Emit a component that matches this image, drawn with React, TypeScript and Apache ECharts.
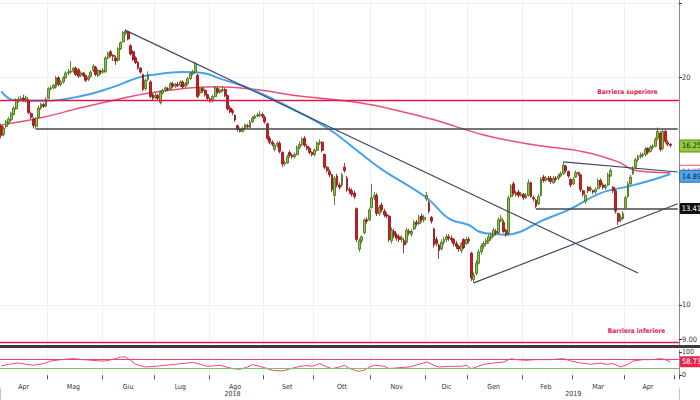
import React, { useEffect, useRef } from 'react';
import * as echarts from 'echarts';

// ---------- calendar (trading days) ----------
const holidays = ['2018-05-01', '2018-08-15', '2018-12-24', '2018-12-25', '2018-12-26', '2018-12-31', '2019-01-01', '2019-04-19', '2019-04-22', '2019-05-01'];
const MONTHS = ['Gen', 'Feb', 'Mar', 'Apr', 'Mag', 'Giu', 'Lug', 'Ago', 'Set', 'Ott', 'Nov', 'Dic'];

function buildDates(): string[] {
  const out: string[] = [];
  const d = new Date(Date.UTC(2018, 3, 4));
  const end = Date.UTC(2019, 4, 3);
  while (d.getTime() <= end) {
    const wd = d.getUTCDay();
    const s = d.toISOString().slice(0, 10);
    if (wd !== 0 && wd !== 6 && holidays.indexOf(s) < 0) out.push(s);
    d.setUTCDate(d.getUTCDate() + 1);
  }
  return out;
}
const dates = buildDates();

// ---------- daily prices ----------
const opens = [17.25,16.8,17.2,17.4,17.55,17.85,18.15,18.6,18.7,18.75,18.65,18.6,17.9,17.6,17.2,17.7,18.2,18.4,18.3,18.75,
19.3,19.35,19.4,19.95,19.55,19.7,19.95,20.25,20.3,20.35,20.55,20.45,20.1,20.25,20.1,19.85,20.05,20.4,20.6,20.1,
20.35,20.3,20.35,21.2,21.6,21.35,21.2,21.05,21.8,22.25,22.85,22.95,22.0,21.6,21.2,20.9,20.55,20.15,19.3,19.85,
19.7,18.95,18.8,18.9,18.5,19.05,19.2,19.3,19.3,19.6,19.45,19.55,19.5,19.7,19.45,19.6,19.9,20.2,20.3,20.1,
19.05,19.3,19.2,18.95,18.7,18.6,18.85,19.3,19.1,19.2,19.25,18.9,18.2,18.05,17.8,17.25,17.05,16.95,17.1,17.25,
17.15,17.45,17.65,17.75,17.8,17.85,17.7,17.35,16.6,16.4,16.05,16.25,16.35,15.9,15.35,15.4,15.9,15.75,15.7,15.8,
16.15,16.3,16.6,16.2,16.1,15.9,15.8,16.0,16.35,16.4,15.8,15.2,15.0,14.85,13.95,14.8,14.4,14.4,15.2,14.7,
14.2,14.15,14.05,13.4,11.85,12.15,12.45,12.95,12.95,13.45,13.85,13.95,13.2,13.55,13.3,13.15,13.1,12.15,12.5,12.35,
12.3,12.2,12.15,12.1,12.5,12.4,12.6,12.85,12.8,13.1,12.95,13.8,13.65,13.05,12.6,12.2,12.0,11.85,12.1,12.2,
12.3,12.25,12.2,12.05,11.95,11.8,12.2,12.05,12.2,11.7,10.8,11.0,11.35,11.75,11.95,12.05,12.15,12.25,12.35,12.5,
12.45,12.9,12.85,12.55,12.45,13.9,14.45,14.05,14.1,13.95,14.0,13.85,13.95,14.5,13.85,13.75,13.6,13.95,14.75,14.6,
14.7,14.7,14.5,14.7,14.7,14.8,14.9,15.25,15.0,14.65,14.45,14.75,14.95,14.85,14.15,13.7,14.3,14.2,14.15,14.1,
14.25,14.6,14.4,14.3,14.4,14.8,14.3,14.15,13.2,12.95,13.0,13.45,13.9,14.45,14.9,15.2,15.55,15.7,15.75,15.8,
16.1,15.95,16.15,16.2,16.6,16.85,16.1,16.95,16.4,16.3];
const closes = [16.75,17.1,17.45,17.6,17.9,18.2,18.65,18.7,18.75,18.65,18.8,17.95,17.7,17.25,17.65,18.2,18.4,18.3,18.7,19.3,
19.35,19.5,19.95,19.55,19.7,19.95,20.25,20.3,20.35,20.55,20.15,20.05,20.25,20.1,19.8,20.0,20.3,20.65,20.15,20.4,
20.3,20.4,21.2,21.5,21.35,21.3,21.0,21.8,22.2,22.9,23.0,22.45,21.45,21.1,20.9,20.55,20.3,19.25,19.8,20.15,
18.85,18.75,18.9,18.75,19.1,19.2,19.35,19.25,19.6,19.45,19.55,19.5,19.7,19.4,19.6,19.9,20.2,20.3,20.85,18.85,
19.3,19.2,18.95,18.75,18.6,18.85,19.35,19.1,19.2,19.25,18.9,18.15,18.0,17.95,17.55,17.05,16.95,17.1,17.3,17.2,
17.45,17.65,17.75,17.8,17.85,17.75,17.45,16.6,16.4,16.3,16.25,16.35,15.95,15.35,15.4,15.7,15.75,15.7,15.8,16.15,
16.3,16.55,16.25,16.1,15.9,15.8,16.0,16.35,16.4,16.0,15.2,15.05,14.85,14.2,14.7,14.4,14.3,14.85,15.05,14.2,
14.15,14.0,13.9,12.2,12.15,12.3,12.95,12.9,13.35,13.85,13.95,13.2,13.45,13.35,13.15,13.1,12.2,12.55,12.35,12.25,
12.2,12.25,12.0,12.55,12.45,12.5,12.85,12.8,13.05,12.95,13.05,13.95,13.3,12.9,12.0,12.05,11.8,12.1,12.2,12.3,
12.25,12.2,12.05,11.95,11.85,12.05,11.9,12.2,12.15,10.85,10.95,11.35,11.75,11.95,12.05,12.15,12.3,12.35,12.55,12.45,
12.95,13.0,12.5,12.4,13.85,14.35,14.05,14.0,13.95,14.0,13.85,13.95,14.5,13.9,13.8,13.5,13.9,14.65,14.6,14.7,
14.65,14.55,14.7,14.65,14.8,14.9,15.3,15.05,14.8,14.4,14.65,14.95,14.9,14.2,14.0,13.95,14.15,14.25,14.1,14.2,
14.6,14.4,14.3,14.35,14.85,15.05,14.15,13.3,12.9,13.05,13.2,13.85,14.45,14.75,15.15,15.55,15.7,15.75,15.8,16.05,
15.9,16.15,16.2,16.55,16.95,16.05,16.95,16.45,16.3,16.25];
const lows = [16.6,16.7,17.1,17.3,17.45,17.8,18.1,18.5,18.6,18.55,18.5,17.85,17.6,17.1,17.06,17.65,18.1,18.2,18.25,18.7,
19.2,19.25,19.3,19.45,19.45,19.6,19.9,20.1,20.2,20.25,20.05,19.95,20.0,20.0,19.7,19.75,19.95,20.3,20.05,20.0,
20.15,20.2,20.25,21.1,21.25,21.0,20.75,20.95,21.7,22.2,22.7,22.35,21.35,21.0,20.8,20.45,20.2,19.15,19.2,19.75,
18.75,18.6,18.7,18.6,18.4,18.95,19.1,19.15,19.2,19.35,19.35,19.4,19.4,19.3,19.35,19.5,19.8,20.1,20.2,18.75,
18.9,19.05,18.85,18.6,18.5,18.5,18.8,19.0,19.0,19.1,18.8,18.05,17.9,17.8,17.45,16.95,16.9,16.9,17.0,17.1,
17.1,17.4,17.6,17.7,17.7,17.65,17.35,16.5,16.3,16.2,15.95,16.15,15.85,15.2,15.25,15.35,15.65,15.6,15.6,15.75,
16.05,16.2,16.15,16.0,15.8,15.7,15.7,15.95,16.25,15.9,15.1,14.95,14.75,14.1,13.55,14.3,14.2,14.3,14.95,14.1,
14.0,13.9,13.8,12.1,11.75,12.05,12.4,12.8,12.9,13.4,13.75,13.1,13.1,13.25,13.05,13.0,12.1,12.05,12.25,12.15,
12.1,12.1,11.7,12.05,12.35,12.3,12.55,12.7,12.75,12.85,12.85,13.7,13.2,12.8,11.9,11.95,11.5,11.8,12.0,12.1,
12.15,12.1,11.95,11.85,11.75,11.7,11.85,12.0,12.05,10.75,10.69,10.95,11.3,11.65,11.85,11.95,12.05,12.15,12.3,12.35,
12.4,12.85,12.45,12.3,12.35,13.85,13.95,13.9,13.85,13.9,13.75,13.8,13.9,13.85,13.7,13.41,13.55,13.9,14.5,14.55,
14.55,14.45,14.45,14.55,14.6,14.75,14.85,14.95,14.7,14.3,14.4,14.7,14.8,14.1,13.9,13.6,14.05,14.1,14.0,14.0,
14.2,14.3,14.2,14.2,14.35,14.75,14.05,13.2,12.75,12.85,12.95,13.4,13.85,14.4,14.85,15.15,15.45,15.6,15.65,15.7,
15.8,15.9,16.05,16.15,16.5,15.95,16.0,16.35,16.2,16.15];
const highs = [17.35,17.2,17.55,17.7,18.0,18.3,18.75,18.85,18.9,18.95,18.9,18.7,18.0,17.7,17.7,18.35,18.5,18.5,18.8,19.4,
19.5,19.6,20.05,20.05,19.8,20.05,20.35,20.5,21.0,20.6,20.65,20.55,20.35,20.3,20.15,20.1,20.4,20.8,20.7,20.5,
20.45,20.55,21.3,21.6,21.7,21.45,21.35,21.9,22.3,23.0,23.15,23.0,22.1,21.7,21.3,21.0,20.6,20.2,19.9,20.35,
19.8,19.05,19.1,19.0,19.2,19.3,19.45,19.4,19.7,19.7,19.65,19.7,19.8,19.8,19.7,20.0,20.3,20.45,20.95,20.2,
19.4,19.4,19.3,19.0,18.8,18.95,19.45,19.4,19.3,19.45,19.35,18.95,18.35,18.15,17.85,17.3,17.15,17.2,17.35,17.35,
17.55,17.75,17.85,17.95,18.05,17.95,17.8,17.4,16.7,16.5,16.35,16.45,16.45,15.95,15.5,15.8,16.0,15.85,15.9,16.25,
16.45,16.65,16.7,16.3,16.15,15.95,16.1,16.45,16.55,16.45,15.85,15.25,15.1,14.9,14.8,14.9,14.5,14.95,15.4,14.8,
14.3,14.25,14.15,13.45,12.25,12.35,13.0,13.05,13.45,14.45,14.1,14.05,13.55,13.65,13.4,13.25,13.15,12.65,12.6,12.45,
12.4,12.35,12.25,12.65,12.6,12.6,12.95,12.95,13.15,13.2,13.15,14.1,13.75,13.1,12.65,12.3,12.05,12.2,12.3,12.4,
12.4,12.35,12.25,12.15,12.0,12.1,12.25,12.3,12.3,11.75,11.05,11.45,11.85,12.05,12.15,12.25,12.4,12.45,12.65,12.6,
13.05,13.15,12.95,12.6,13.95,14.45,14.55,14.15,14.2,14.1,14.05,14.05,14.65,14.55,13.95,13.8,14.0,14.75,14.85,14.8,
14.8,14.8,14.8,14.8,14.9,15.0,15.45,15.3,15.05,14.7,14.75,15.05,15.0,14.9,14.2,14.0,14.35,14.35,14.2,14.3,
14.7,14.7,14.5,14.45,14.95,15.15,14.35,14.2,13.25,13.15,13.3,13.95,14.55,14.85,15.25,15.65,15.8,15.9,15.9,16.15,
16.15,16.25,16.3,16.65,17.15,16.95,17.05,17.05,16.5,16.35];

// ---------- moving averages: [day index, value] ----------
const ma50Idx = [0, 5, 18, 33, 44, 52, 56, 60, 73, 81, 88, 100, 120, 132, 144, 153, 171, 180, 188, 192, 196, 203, 209, 217, 228, 241, 253, 261, 269];
const ma50Val = [19.15, 18.65, 18.6, 18.9, 19.35, 19.8, 20.0, 20.12, 20.3, 20.25, 19.9, 19.3, 17.95, 17.05, 15.9, 15.1, 13.85, 13.0, 12.75, 12.5, 12.42, 12.38, 12.5, 12.9, 13.35, 14.05, 14.36, 14.6, 14.89];
const ma200Idx = [0, 16, 32, 48, 60, 72, 86, 100, 120, 144, 160, 174, 194, 214, 234, 248, 254, 261, 269];
const ma200Val = [17.29, 17.67, 18.21, 18.72, 19.06, 19.29, 19.41, 19.29, 18.88, 18.49, 18.04, 17.56, 16.77, 16.27, 15.93, 15.45, 15.08, 14.98, 14.95];

// ---------- RSI ----------
const rsiIdx = [0,3,7,10,13,17,20,24,29,33,40,42,46,48,50,52,54,58,62,66,70,75,77,80,83,88,93,96,99,101,104,107,109,113,116,120,123,125,128,131,133,136,138,140,142,144,146,148,150,154,156,160,164,168,171,174,176,180,185,187,189,191,194,198,202,205,207,211,215,221,226,229,233,237,241,243,246,249,252,254,258,262,265,267,269];
const rsiVal = [40.6,47.8,53.6,47.8,43.5,50.7,62.3,68.1,72.5,68.1,62.3,62.3,72.5,79.7,79.7,65.2,47.8,36.2,39.1,43.5,47.8,53.6,56.5,47.8,39.1,43.5,29,26.1,36.2,46.4,39.1,29,21.7,18.8,27.5,39.1,42,39.1,50.7,36.2,29,36.2,43.5,30,21.7,17.4,21.7,36.2,43.5,39.1,29,33.3,36.2,47.8,58,43.5,36.2,39.1,39.1,43.5,29,36.2,47.8,53.6,58,72.5,68.1,65.2,68.1,68.1,72.5,62.3,53.6,47.8,53.6,47.8,50.7,36.2,47.8,62.3,68.1,68.1,72.5,68.1,58.7365];

// ---------- levels ----------
const barrierHigh = 18.6;
const barrierLow = 9.0;
const resistance = 17.07;
const support = 13.41;
const lastPrice = 16.25;
const ma50Last = 14.8923;
const ma200Last = 14.95;
const rsiLast = 58.7365;
const priceLabelValues = [9, 10, 20];
const priceTickValues = [9, 10, 20, 25];
const yMin = 8.85;
const yMax = 25.28;
// trend lines: [startIdx, startVal, endIdx, endVal]
const trendDown = [50, 23.05, 256, 11.02];
const trendUp = [190, 10.69, 272, 13.6];
const triangleTop = [226, 15.45, 272, 14.98];
const resistanceStart = 14;
const supportStart = 215;
const lastIdx = 272;
// where the barrier captions end (day index)
const upperCaptionEnd = 266;
const lowerCaptionEnd = 269;

const L = (v: number) => Math.log10(v);

function buildOption() {
  const monthStarts: number[] = [];
  const monthMids: number[] = [];
  let s = 0;
  for (let i = 1; i <= dates.length; i++) {
    if (i === dates.length || dates[i].slice(0, 7) !== dates[i - 1].slice(0, 7)) {
      const count = i - s;
      if (count >= 10) monthMids.push(s + Math.floor((count - 1) / 2));
      if (i < dates.length) monthStarts.push(i);
      s = i;
    }
  }
  const startSet = new Set(monthStarts);
  const midSet = new Set(monthMids);
  const yearLabelIdx = new Set([93, 230]);
  const yearSplitIdx = dates.indexOf('2019-01-02');

  const candleData = opens.map((o, i) => [L(o), L(closes[i]), L(lows[i]), L(highs[i])]);
  const font = '"Liberation Sans Narrow", "DejaVu Sans Condensed", "Liberation Sans", sans-serif';
  const red = '#e2184c';
  const clear = { color: 'rgba(0,0,0,0)', width: 1, type: 'solid' };
  const trendStyle = { color: '#3a4866', width: 1.2, type: 'solid' };
  const blackStyle = { color: '#474747', width: 1.6, type: 'solid' };
  const seg = (t: number[], style: any, extra: any = {}) => [
    { coord: [t[0], L(t[1])], lineStyle: style, label: { show: false }, ...extra },
    { coord: [t[2], L(t[3])] },
  ];
  const boxLabel = (text: string, bg: string, fg: string, extra: any = {}) => ({
    show: true, position: 'end', formatter: text, backgroundColor: bg, color: fg, opacity: 1,
    fontSize: 7.5, fontFamily: font, padding: [2, 2, 1, 2], distance: 1, borderRadius: 1, ...extra,
  });
  const caption = (text: string) => ({
    show: true, position: 'insideEndTop', formatter: text, color: red, fontWeight: 'bold',
    fontSize: 6.5, fontFamily: font, opacity: 1,
  });

  return {
    animation: false,
    backgroundColor: '#ffffff',
    textStyle: { fontFamily: font },
    grid: [
      { left: 0, right: 21, top: 0, height: 345, outerBoundsMode: 'none', containLabel: false },
      { left: 0, right: 21, top: 350, height: 27.6, outerBoundsMode: 'none', containLabel: false },
    ],
    xAxis: [
      {
        type: 'category', gridIndex: 0, data: dates, boundaryGap: true,
        axisLine: { show: false }, axisTick: { show: false }, axisLabel: { show: false },
        splitLine: { show: true, interval: (i: number) => startSet.has(i), lineStyle: { color: '#edf1f6', width: 1 } },
      },
      {
        type: 'category', gridIndex: 1, data: dates, boundaryGap: true,
        axisLine: { show: false },
        axisTick: { show: true, interval: (i: number) => startSet.has(i), length: 4, lineStyle: { color: '#555' } },
        axisLabel: {
          interval: (i: number) => midSet.has(i),
          formatter: (v: string) => MONTHS[parseInt(v.slice(5, 7), 10) - 1],
          fontSize: 7, color: '#333', margin: 6, fontFamily: font,
        },
        splitLine: { show: true, interval: (i: number) => startSet.has(i), lineStyle: { color: '#edf1f6' } },
      },
      {
        type: 'category', gridIndex: 1, data: dates, boundaryGap: true, position: 'bottom', offset: 10,
        axisLine: { show: false },
        axisTick: { show: true, interval: (i: number) => i === yearSplitIdx, length: 13, lineStyle: { color: '#c8c8c8' } },
        axisLabel: {
          interval: (i: number) => yearLabelIdx.has(i),
          formatter: (v: string) => v.slice(0, 4),
          fontSize: 7, color: '#333', margin: 3, fontFamily: font,
        },
      },
    ],
    yAxis: [
      {
        type: 'value', gridIndex: 0, position: 'right', min: L(yMin), max: L(yMax),
        axisLine: { show: true, lineStyle: { color: '#8c8c8c' } },
        axisTick: { show: true, length: 3, customValues: priceTickValues.map(L), lineStyle: { color: '#333' } },
        axisLabel: {
          customValues: priceLabelValues.map(L),
          formatter: (v: number) => {
            const p = Math.pow(10, v);
            return Math.abs(p - 9) < 0.01 ? '9.00' : String(Math.round(p));
          },
          fontSize: 7.5, color: '#333', margin: 3, fontFamily: font,
        },
        splitLine: { show: true, lineStyle: { color: '#edf1f6' } },
      },
      {
        type: 'value', gridIndex: 1, position: 'right', min: -10, max: 110,
        axisLine: { show: true, lineStyle: { color: '#8c8c8c' } },
        axisTick: { show: true, length: 3, customValues: [0, 100], lineStyle: { color: '#333' } },
        axisLabel: { customValues: [0, 100], fontSize: 7, color: '#333', margin: 3, fontFamily: font },
        splitLine: { show: false },
      },
    ],
    graphic: [
      { type: 'rect', shape: { x: 0, y: 345, width: 700, height: 3 }, style: { fill: '#3b3b3b' }, silent: true },
    ],
    series: [
      {
        name: 'MA200', type: 'line', xAxisIndex: 0, yAxisIndex: 0, showSymbol: false, smooth: 0.4,
        data: ma200Idx.map((x, i) => [x, L(ma200Val[i])]),
        lineStyle: { color: '#ec4f73', width: 1.5 }, z: 2,
        markLine: {
          symbol: ['none', 'none'], silent: true,
          data: [{ yAxis: L(ma200Last), lineStyle: clear, label: boxLabel(String(ma200Last), '#ffffff', '#ec4f73', { borderColor: '#ec4f73', borderWidth: 1, offset: [0, -5] }) }],
        },
      },
      {
        name: 'MA50', type: 'line', xAxisIndex: 0, yAxisIndex: 0, showSymbol: false, smooth: 0.4,
        data: ma50Idx.map((x, i) => [x, L(ma50Val[i])]),
        lineStyle: { color: '#45a2ec', width: 2 }, z: 2,
        markLine: {
          symbol: ['none', 'none'], silent: true,
          data: [{ yAxis: L(ma50Last), lineStyle: clear, label: boxLabel(String(ma50Last), '#4fa6ee', '#0d2440', { borderColor: '#2f6fae', borderWidth: 1 }) }],
        },
      },
      {
        name: 'Prezzo', type: 'candlestick', xAxisIndex: 0, yAxisIndex: 0, data: candleData, barWidth: 2.4, z: 3,
        itemStyle: { color: '#8dc63f', color0: '#d6191d', borderColor: '#3e6b12', borderColor0: '#8a0d10', borderWidth: 0.8 },
        markLine: {
          symbol: ['none', 'none'], silent: true,
          data: [
            { yAxis: L(barrierHigh), lineStyle: { color: red, width: 1.4, type: 'solid' }, label: { show: false } },
            { yAxis: L(barrierLow), lineStyle: { color: red, width: 1.4, type: 'solid' }, label: { show: false } },
            [
              { coord: [0, L(barrierHigh)], lineStyle: clear, label: caption('Barriera superiore') },
              { coord: [upperCaptionEnd, L(barrierHigh)] },
            ],
            [
              { coord: [0, L(barrierLow)], lineStyle: clear, label: caption('Barriera inferiore') },
              { coord: [lowerCaptionEnd, L(barrierLow)] },
            ],
            seg([resistanceStart, resistance, lastIdx, resistance], blackStyle),
            seg(trendDown, trendStyle),
            seg(trendUp, trendStyle),
            seg(triangleTop, trendStyle),
            seg([supportStart, support, lastIdx, support], blackStyle, { label: boxLabel(String(support), '#111111', '#ffffff', { distance: 2 }) }),
            { yAxis: L(lastPrice), lineStyle: clear, label: boxLabel(String(lastPrice), '#8fcd3b', '#1a1a1a', { borderColor: '#5c8f1c', borderWidth: 1 }) },
          ],
        },
      },
      {
        name: 'RSI', type: 'line', xAxisIndex: 1, yAxisIndex: 1, showSymbol: false,
        data: rsiIdx.map((x, i) => [x, rsiVal[i]]),
        lineStyle: { color: '#ef4a6b', width: 1 },
        markLine: {
          symbol: ['none', 'none'], silent: true,
          data: [
            { yAxis: 70, lineStyle: { color: '#e8476a', width: 1, type: 'solid' }, label: { show: false } },
            { yAxis: 30, lineStyle: { color: '#74c95a', width: 1, type: 'solid' }, label: { show: false } },
            { yAxis: rsiLast, lineStyle: clear, label: boxLabel(String(rsiLast), '#e8254e', '#ffffff') },
          ],
        },
      },
    ],
  };
}

export default function App() {
  const ref = useRef<HTMLDivElement>(null);
  useEffect(() => {
    if (!ref.current) return;
    const chart = echarts.init(ref.current, null, { renderer: 'svg' });
    chart.setOption(buildOption() as any);
    return () => chart.dispose();
  }, []);
  return <div ref={ref} style={{ position: 'fixed', left: 0, top: 0, width: 700, height: 400, background: '#fff' }} />;
}
